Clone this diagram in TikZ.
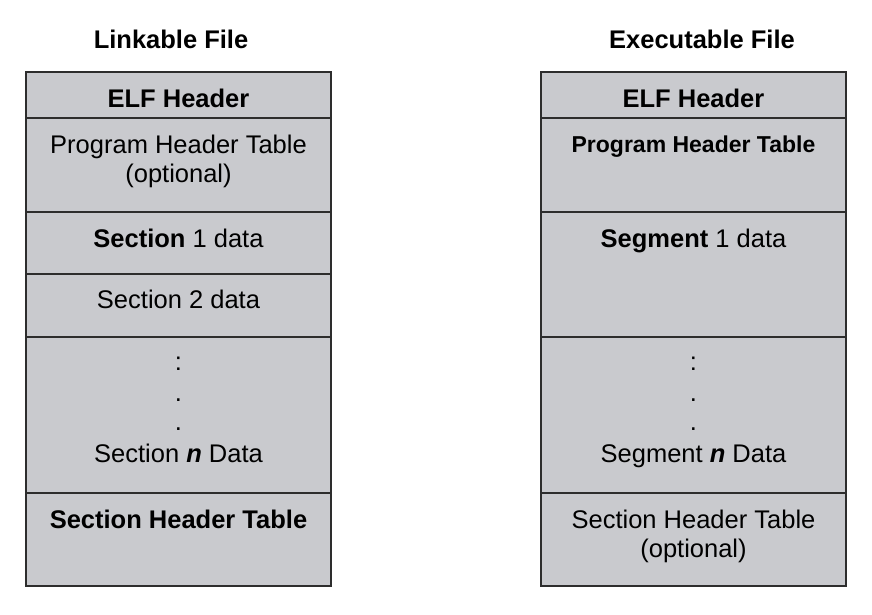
\documentclass[tikz,border=0pt]{standalone}
\usepackage{fontspec}
\setmainfont{Liberation Sans}
\definecolor{cellgray}{RGB}{201,202,206}
\definecolor{edgegray}{RGB}{45,45,45}
\begin{document}
\begin{tikzpicture}[x=1pt,y=-1pt,
  cell/.style={draw=edgegray,line width=1.8pt,fill=cellgray},
  lbl/.style={anchor=base,inner sep=0pt,font=\fontsize{25.5}{30}\selectfont,align=center,text=black},
  stack/.style={anchor=north,inner sep=0pt,font=\fontsize{25.5}{30}\selectfont,align=center,text=black},
  title/.style={anchor=base,inner sep=0pt,font=\fontsize{25.5}{30}\selectfont\bfseries}]
\useasboundingbox (0,0) rectangle (872,614);

% Linkable file
\node[title] (tl) at (171,48) {Linkable File};
\draw[cell] (26,72) rectangle (331,118) coordinate (l1);
\draw[cell] (26,118) rectangle (331,212) coordinate (l2);
\draw[cell] (26,212) rectangle (331,274) coordinate (l3);
\draw[cell] (26,274) rectangle (331,337) coordinate (l4);
\draw[cell] (26,337) rectangle (331,493) coordinate (l5);
\draw[cell] (26,493) rectangle (331,586) coordinate (l6);
\node[lbl] (le) at (178.5,107) {\bfseries ELF Header};
\node[lbl] (lp) at (178.5,153) {Program Header Table};
\node[lbl] (lpo) at (178.5,182) {(optional)};
\node[lbl] (ls1) at (178.5,247) {\textbf{Section} 1 data};
\node[lbl] (ls2) at (178.5,308) {Section 2 data};
\node[lbl] (ld1) at (178.5,370) {:};
\node[lbl] (ld2) at (178.5,401) {.};
\node[lbl] (ld3) at (178.5,430) {.};
\node[lbl] (lsn) at (178.5,462) {Section \textbf{\itshape n} Data};
\node[lbl] (lsh) at (178.5,528) {\bfseries Section Header Table};

% Executable file
\node[title] (tr) at (702,48) {Executable File};
\draw[cell] (541,72) rectangle (846,118) coordinate (r1);
\draw[cell] (541,118) rectangle (846,212) coordinate (r2);
\draw[cell] (541,212) rectangle (846,337) coordinate (r3);
\draw[cell] (541,337) rectangle (846,493) coordinate (r4);
\draw[cell] (541,493) rectangle (846,586) coordinate (r5);
\node[lbl] (re) at (693.5,107) {\bfseries ELF Header};
\node[lbl,font=\fontsize{23}{28}\selectfont\bfseries] (rp) at (693.5,152) {Program Header Table};
\node[lbl] (rs1) at (693.5,247) {\textbf{Segment} 1 data};
\node[lbl] (rd1) at (693.5,370) {:};
\node[lbl] (rd2) at (693.5,401) {.};
\node[lbl] (rd3) at (693.5,430) {.};
\node[lbl] (rsn) at (693.5,462) {Segment \textbf{\itshape n} Data};
\node[lbl] (rsh) at (693.5,528) {Section Header Table};
\node[lbl] (rso) at (693.5,557) {(optional)};
\end{tikzpicture}
\end{document}
